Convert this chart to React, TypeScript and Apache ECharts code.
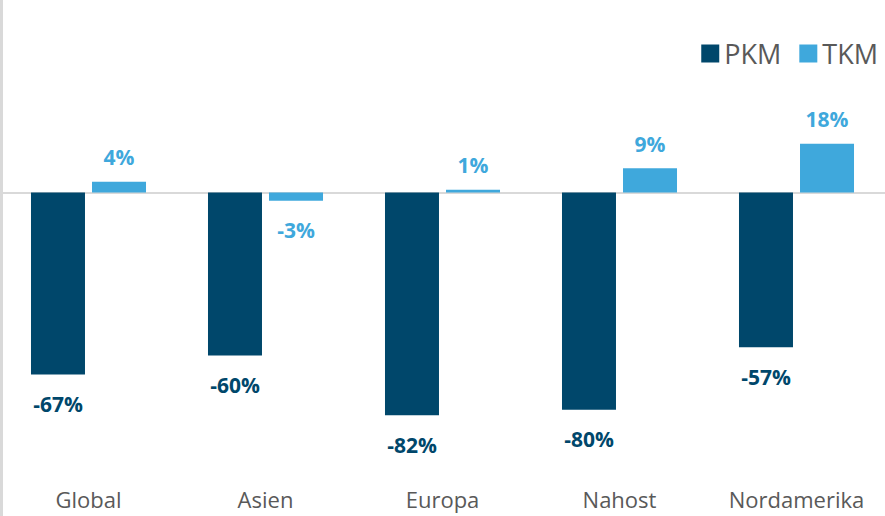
import React, { useEffect, useRef } from "react";
import * as echarts from "echarts";

const categories = ["Global", "Asien", "Europa", "Nahost", "Nordamerika"];
const pkmValues = [-67, -60, -82, -80, -57];
const tkmValues = [4, -3, 1, 9, 18];
const seriesNames = ["PKM", "TKM"];

const PKM_COLOR = "#00476B";
const TKM_COLOR = "#3FA8DC";
const GRAY = "#D9D9D9";
const TEXT = "#595959";
const FONT = "'Open Sans', 'Noto Sans', sans-serif";

export default function App() {
  const ref = useRef<HTMLDivElement>(null);
  useEffect(() => {
    document.body.style.margin = "0";
    const chart = echarts.init(ref.current!, null, { renderer: "svg" });
    const labelFor = (color: string) => ({
      show: true,
      position: "outside",
      distance: 15,
      color,
      fontFamily: FONT,
      fontWeight: "bold",
      fontSize: 21,
      formatter: (p: any) => `${p.value}%`,
    });
    const withDist = (vals: number[]) =>
      vals.map((v) => ({ value: v, label: { distance: v < 0 ? 19 : 14 } }));
    chart.setOption({
      animation: false,
      backgroundColor: "#ffffff",
      legend: {
        data: seriesNames,
        right: 2,
        top: 35,
        itemWidth: 18,
        itemHeight: 18,
        itemGap: 18,
        icon: "rect",
        textStyle: { color: TEXT, fontSize: 27, fontFamily: FONT },
      },
      graphic: [
        {
          type: "rect",
          shape: { x: 0, y: 0, width: 3, height: 516 },
          style: { fill: GRAY },
          silent: true,
        },
      ],
      grid: { left: 0, right: 0, top: 84, bottom: 52, containLabel: false },
      xAxis: {
        type: "category",
        data: categories,
        axisLine: { show: true, onZero: true, lineStyle: { color: GRAY, width: 2 } },
        axisTick: { show: false },
        axisLabel: {
          show: true,
          color: TEXT,
          fontSize: 22,
          fontFamily: FONT,
          margin: 24,
          interval: 0,
        },
        position: "bottom",
      },
      yAxis: {
        type: "value",
        min: -100,
        max: 40,
        show: false,
        splitLine: { show: false },
      },
      series: [
        {
          name: seriesNames[0],
          type: "bar",
          data: withDist(pkmValues),
          barWidth: 54,
          barGap: "13%",
          itemStyle: { color: PKM_COLOR },
          label: labelFor(PKM_COLOR),
        },
        {
          name: seriesNames[1],
          type: "bar",
          data: withDist(tkmValues),
          barWidth: 54,
          barGap: "13%",
          itemStyle: { color: TKM_COLOR },
          label: labelFor(TKM_COLOR),
        },
      ],
    });
    return () => chart.dispose();
  }, []);
  return (
    <div
      ref={ref}
      style={{ position: "fixed", left: 0, top: 0, width: 885, height: 516 }}
    />
  );
}
